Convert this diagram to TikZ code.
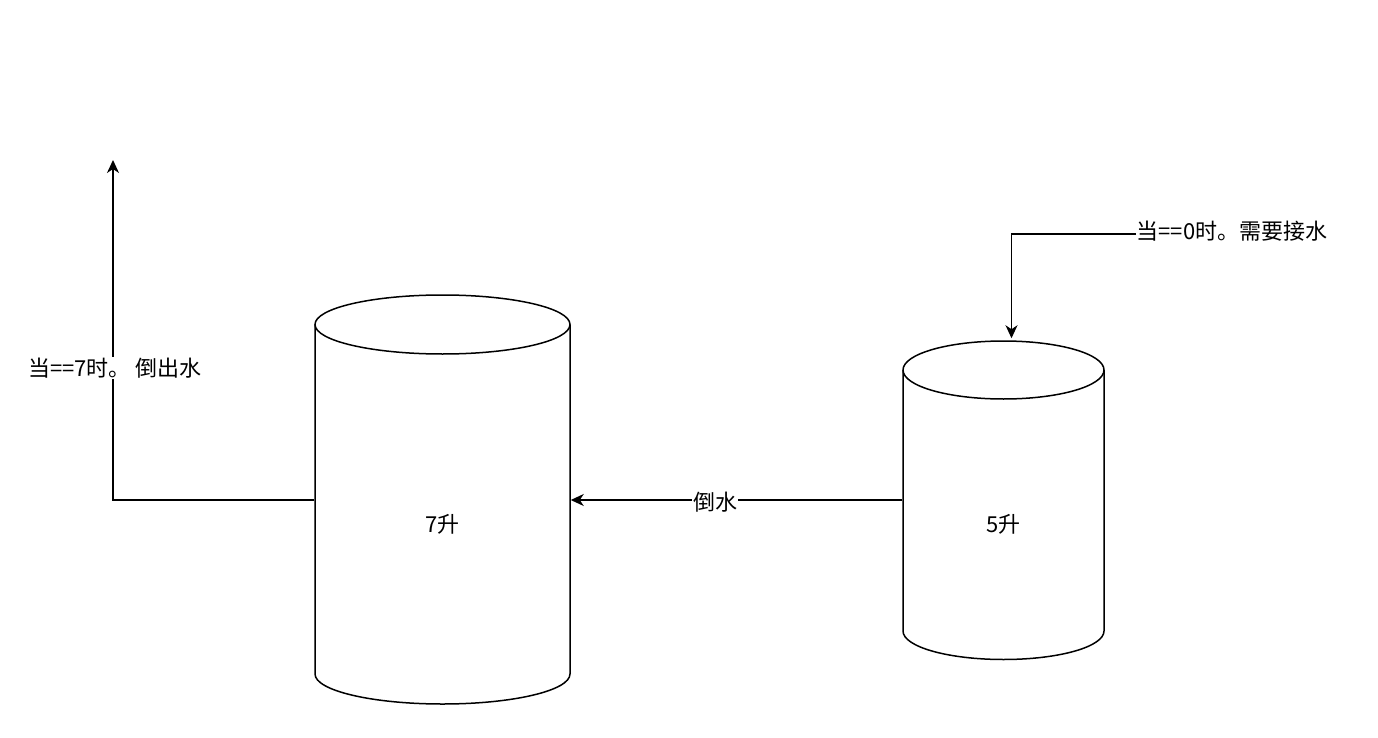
\documentclass[tikz,border=0pt]{standalone}
\usepackage{fontspec}
\setmainfont{Noto Sans CJK SC}
\usetikzlibrary{arrows.meta}
\begin{document}
\begin{tikzpicture}[x=1pt,y=-1pt,
  line width=1.5pt,
  lbl/.style={font=\fontsize{22}{26}\selectfont, inner sep=1pt},
  onl/.style={lbl, fill=white},
  conn/.style={-{Stealth[length=13pt,width=12pt,inset=4pt]}}
]
\fill[white] (0,0) rectangle (1378,738);
\useasboundingbox (0,0) rectangle (1378,738);

% cylinder 7
\node[draw=none, minimum width=255pt, minimum height=410pt, inner sep=0pt] (c7) at (442.5,500) {};
\draw[fill=white] (315,324.5) -- (315,674) arc[start angle=180,end angle=360,x radius=127.5pt,y radius=30pt] -- (570,324.5);
\draw[fill=white] (442.5,324.5) ellipse [x radius=127.5pt, y radius=29.5pt];
\node[lbl] (t7) at (442.5,524) {7升};

% cylinder 5
\node[draw=none, minimum width=201pt, minimum height=320pt, inner sep=0pt] (c5) at (1003.5,500) {};
\draw[fill=white] (903,370) -- (903,631) arc[start angle=180,end angle=360,x radius=100.5pt,y radius=28.5pt] -- (1104,370);
\draw[fill=white] (1003.5,370) ellipse [x radius=100.5pt, y radius=29pt];
\node[lbl] (t5) at (1003.5,524) {5升};

% pour between
\draw[conn] (c5.west) -- (c7.east);
\node[onl] (lp) at (715,502) {倒水};

% pour out
\coordinate (up) at (113,160);
\draw[conn] (c7.west) -| (up);
\node[onl] (lo) at (115,368) {当==7时。 倒出水};

% fill in
\node[lbl, anchor=west, inner sep=0pt] (ln) at (1136,231) {当==0时。需要接水};
\draw[conn] ([yshift=-3pt]ln.west) -| ([xshift=8pt,yshift=1pt]c5.north);
\end{tikzpicture}
\end{document}
